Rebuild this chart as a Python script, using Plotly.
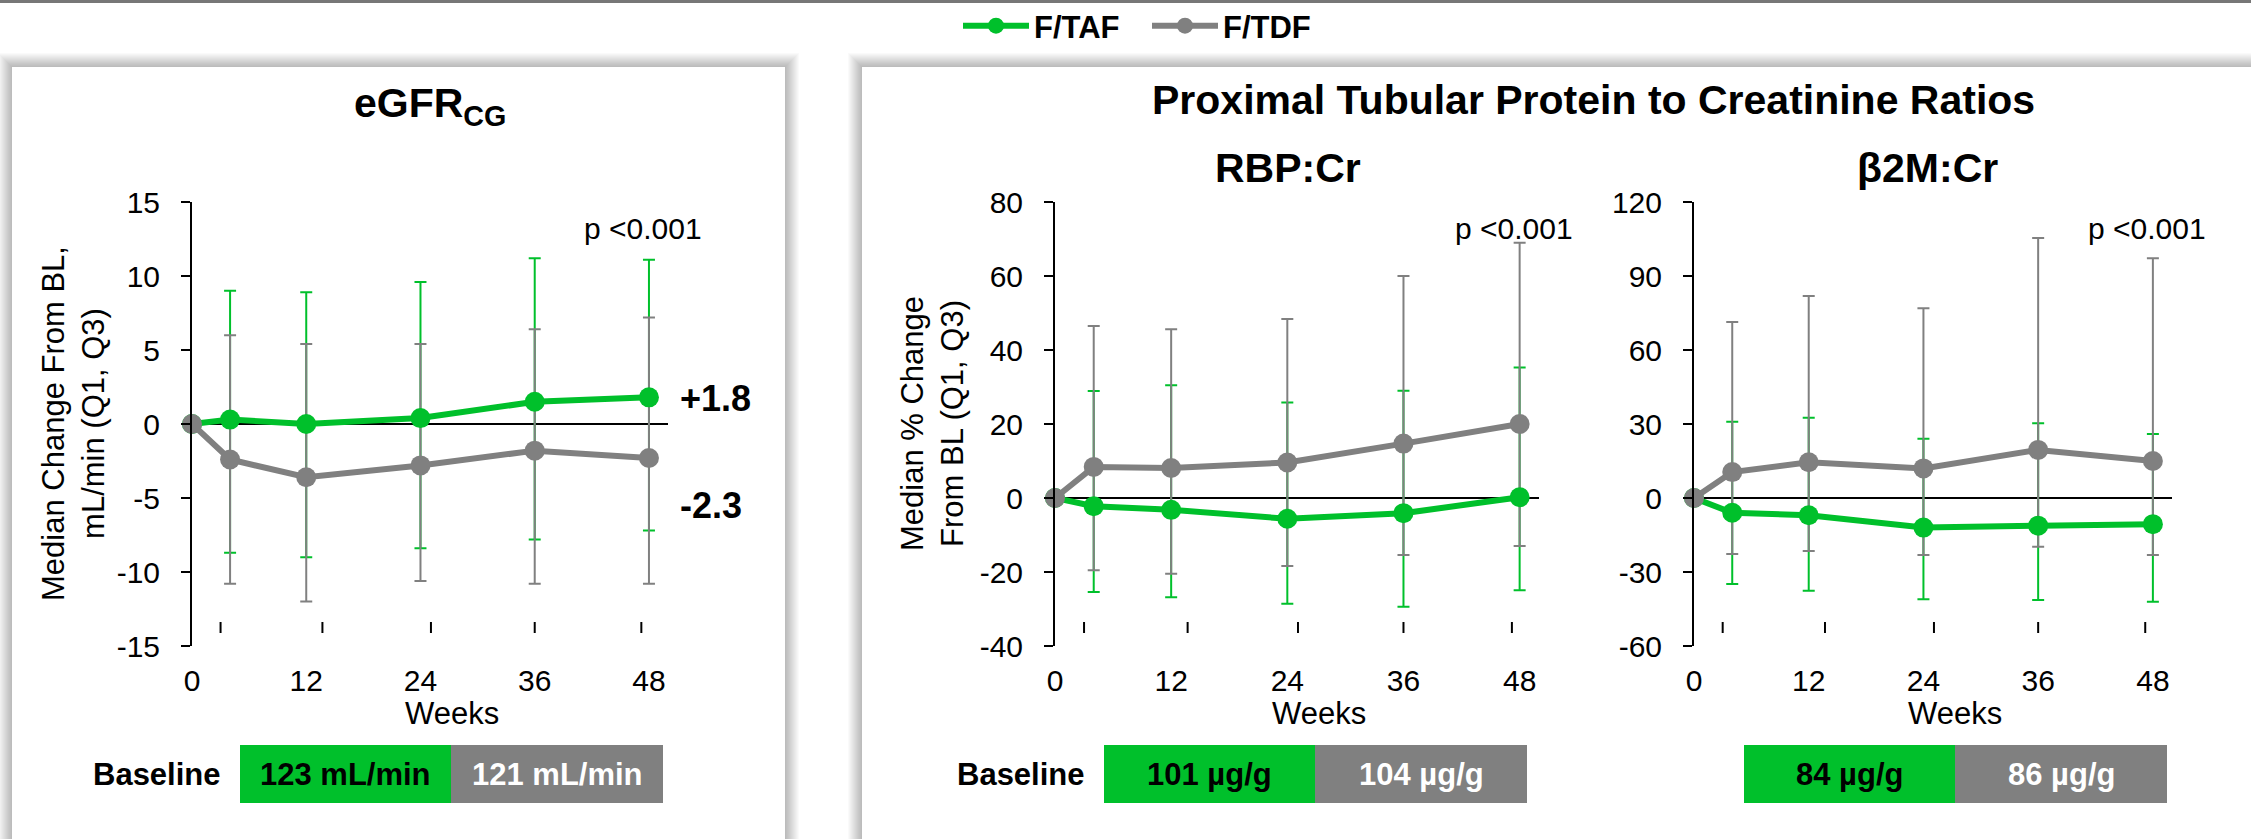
import plotly.graph_objects as go

W, H = 2251, 839
FONT = "Arial, 'Liberation Sans', sans-serif"
GREEN = "#00C02B"
GRAY = "#808080"

# ---------------- data ----------------
weeks = [0, 4, 12, 24, 36, 48]

egfr_taf = [0, 0.3, 0.0, 0.4, 1.5, 1.8]
egfr_taf_q3 = [None, 9.0, 8.9, 9.6, 11.2, 11.1]
egfr_taf_q1 = [None, -8.7, -9.0, -8.4, -7.8, -7.2]
egfr_tdf = [0, -2.4, -3.6, -2.8, -1.8, -2.3]
egfr_tdf_q3 = [None, 6.0, 5.4, 5.4, 6.4, 7.2]
egfr_tdf_q1 = [None, -10.8, -12.0, -10.6, -10.8, -10.8]

rbp_taf = [0, -2.2, -3.2, -5.6, -4.1, 0.2]
rbp_taf_q3 = [None, 28.9, 30.5, 25.8, 29.0, 35.3]
rbp_taf_q1 = [None, -25.4, -26.8, -28.6, -29.4, -24.9]
rbp_tdf = [0, 8.4, 8.1, 9.6, 14.7, 20.0]
rbp_tdf_q3 = [None, 46.5, 45.6, 48.4, 60.0, 69.0]
rbp_tdf_q1 = [None, -19.5, -20.5, -18.4, -15.4, -13.0]

b2m_taf = [0, -6.0, -7.0, -12.0, -11.2, -10.6]
b2m_taf_q3 = [None, 30.9, 32.5, 24.0, 30.3, 25.9]
b2m_taf_q1 = [None, -34.9, -37.6, -41.0, -41.4, -42.1]
b2m_tdf = [0, 10.5, 14.5, 12.0, 19.5, 15.0]
b2m_tdf_q3 = [None, 71.4, 81.9, 76.9, 105.4, 97.2]
b2m_tdf_q1 = [None, -22.7, -21.5, -23.1, -19.8, -23.1]

x_tickvals = [0, 12, 24, 36, 48]
odd_tick_weeks = [3.0, 13.7, 25.1, 36.0, 47.2]

egfr_ticks = [-15, -10, -5, 0, 5, 10, 15]
rbp_ticks = [-40, -20, 0, 20, 40, 60, 80]
b2m_ticks = [-60, -30, 0, 30, 60, 90, 120]

panel_titles = ["eGFR<sub>CG</sub>", "RBP:Cr", "β2M:Cr"]
group_title = "Proximal Tubular Protein to Creatinine Ratios"
y_titles = ["Median Change From BL,<br>mL/min (Q1, Q3)", "Median % Change<br>From BL (Q1, Q3)"]
p_text = "p <0.001"
baseline_taf = ["123 mL/min", "101 µg/g", "84 µg/g"]
baseline_tdf = ["121 mL/min", "104 µg/g", "86 µg/g"]

# ---------------- layout helpers (pixel -> paper) ----------------
def X(px):
    return px / W

def Y(py):
    return 1 - py / H

panels = [
    dict(x=(192, 668), data=(egfr_taf, egfr_taf_q1, egfr_taf_q3, egfr_tdf, egfr_tdf_q1, egfr_tdf_q3),
         ticks=egfr_ticks),
    dict(x=(1055, 1539), data=(rbp_taf, rbp_taf_q1, rbp_taf_q3, rbp_tdf, rbp_tdf_q1, rbp_tdf_q3),
         ticks=rbp_ticks),
    dict(x=(1694, 2172), data=(b2m_taf, b2m_taf_q1, b2m_taf_q3, b2m_tdf, b2m_tdf_q1, b2m_tdf_q3),
         ticks=b2m_ticks),
]
PLOT_TOP, PLOT_BOT = 202, 646


def err(med, q1, q3):
    plus = [None if h is None else h - m for m, h in zip(med, q3)]
    minus = [None if l is None else m - l for m, l in zip(med, q1)]
    return plus, minus


fig = go.Figure()
layout_axes = {}
shapes = []
annotations = []

for i, p in enumerate(panels):
    n = "" if i == 0 else str(i + 1)
    xa, ya = "x" + n, "y" + n
    taf, taf_q1, taf_q3, tdf, tdf_q1, tdf_q3 = p["data"]
    gp, gm = err(taf, taf_q1, taf_q3)
    tp, tm = err(tdf, tdf_q1, tdf_q3)
    # error bars first (underneath lines)
    for med, plus, minus, col in [(taf, gp, gm, GREEN), (tdf, tp, tm, GRAY)]:
        fig.add_trace(go.Scatter(
            x=weeks, y=med, mode="markers", xaxis=xa, yaxis=ya,
            marker=dict(color="rgba(0,0,0,0)", size=2),
            error_y=dict(type="data", symmetric=False, array=plus, arrayminus=minus,
                         color=col, thickness=2, width=6),
            showlegend=False, hoverinfo="skip", cliponaxis=False))
    for med, col, name in [(taf, GREEN, "F/TAF"), (tdf, GRAY, "F/TDF")]:
        fig.add_trace(go.Scatter(
            x=weeks, y=med, mode="lines+markers", xaxis=xa, yaxis=ya, name=name,
            line=dict(color=col, width=6), marker=dict(color=col, size=20),
            showlegend=(i == 0), hoverinfo="skip", cliponaxis=False))

    layout_axes["xaxis" + n] = dict(
        domain=[X(p["x"][0]), X(p["x"][1])], range=[0, 50], anchor=ya,
        tickvals=x_tickvals, ticktext=[str(v) for v in x_tickvals],
        ticks="outside", ticklen=8, tickcolor="rgba(0,0,0,0)",
        showline=False, showgrid=False, zeroline=False, fixedrange=True,
        tickfont=dict(family=FONT, size=30, color="black"))
    layout_axes["yaxis" + n] = dict(
        domain=[Y(PLOT_BOT), Y(PLOT_TOP)], range=[p["ticks"][0], p["ticks"][-1]], anchor=xa,
        tickvals=p["ticks"], ticktext=[str(v) for v in p["ticks"]],
        ticks="outside", ticklen=9, tickwidth=2, tickcolor="black",
        ticklabelstandoff=15,
        showline=True, linecolor="black", linewidth=2,
        showgrid=False, zeroline=True, zerolinecolor="black", zerolinewidth=2,
        fixedrange=True,
        tickfont=dict(family=FONT, size=30, color="black"))

    for wk in odd_tick_weeks:
        shapes.append(dict(type="line", xref=xa, yref="paper", x0=wk, x1=wk,
                           y0=Y(633), y1=Y(622), line=dict(color="black", width=2)))

    # Weeks label & p-value
    cx = (p["x"][0] + p["x"][1]) / 2
    annotations.append(dict(text="Weeks", x=X(cx + 22), y=Y(713), xref="paper", yref="paper",
                            showarrow=False, xanchor="center", yanchor="middle",
                            font=dict(family=FONT, size=31, color="black")))
    annotations.append(dict(text=p_text, x=X(p["x"][1] - 25), y=Y(228), xref="paper", yref="paper",
                            showarrow=False, xanchor="center", yanchor="middle",
                            font=dict(family=FONT, size=30, color="black")))

# ---------- background panels with shadows ----------
def rect(x0, y0, x1, y1, fill, layer="below"):
    return dict(type="rect", xref="paper", yref="paper", x0=X(x0), x1=X(x1),
                y0=Y(y1), y1=Y(y0), fillcolor=fill, line=dict(width=0), layer=layer)

bg_shapes = []
for k in range(14, 0, -1):
    a = 0.018
    bg_shapes.append(rect(12 - k, 67 - k, 785 + k, H + 30, f"rgba(0,0,0,{a})"))
    bg_shapes.append(rect(862 - k, 67 - k, W + 30, H + 30, f"rgba(0,0,0,{a})"))
bg_shapes.append(rect(12, 67, 785, H + 30, "white"))
bg_shapes.append(rect(862, 67, W + 30, H + 30, "white"))
bg_shapes.append(rect(0, 0, W, 3, "#777777", layer="above"))

# baseline boxes
box_x = [(240, 451, 663), (1104, 1315, 1527), (1744, 1955, 2167)]
for (a0, a1, a2), t1, t2 in zip(box_x, baseline_taf, baseline_tdf):
    shapes.append(rect(a0, 745, a1, 803, GREEN))
    shapes.append(rect(a1, 745, a2, 803, GRAY))
    annotations.append(dict(text=t1, x=X((a0 + a1) / 2), y=Y(774), xref="paper", yref="paper",
                            showarrow=False, xanchor="center", yanchor="middle",
                            font=dict(family=FONT, size=31, color="black", weight="bold")))
    annotations.append(dict(text=t2, x=X((a1 + a2) / 2), y=Y(774), xref="paper", yref="paper",
                            showarrow=False, xanchor="center", yanchor="middle",
                            font=dict(family=FONT, size=31, color="white", weight="bold")))
for bx in (157, 1021):
    annotations.append(dict(text="Baseline", x=X(bx), y=Y(774), xref="paper", yref="paper",
                            showarrow=False, xanchor="center", yanchor="middle",
                            font=dict(family=FONT, size=31, color="black", weight="bold")))

# titles
for txt, cx, cy in [(panel_titles[0], 430, 106), (group_title, 1593, 100),
                    (panel_titles[1], 1288, 168), (panel_titles[2], 1927, 168)]:
    annotations.append(dict(text=txt, x=X(cx), y=Y(cy), xref="paper", yref="paper",
                            showarrow=False, xanchor="center", yanchor="middle",
                            font=dict(family=FONT, size=41, color="black", weight="bold")))

# y titles
for txt, cx in [(y_titles[0], 73), (y_titles[1], 932)]:
    annotations.append(dict(text=txt, x=X(cx), y=Y(424), xref="paper", yref="paper",
                            showarrow=False, xanchor="center", yanchor="middle", textangle=-90,
                            font=dict(family=FONT, size=31, color="black")))

# end labels of eGFR
for val, cy in [(egfr_taf[-1], 398), (egfr_tdf[-1], 505)]:
    annotations.append(dict(text=f"{val:+.1f}", x=X(678), y=Y(cy), xref="paper", yref="paper",
                            showarrow=False, xanchor="left", yanchor="middle",
                            font=dict(family=FONT, size=36, color="black", weight="bold")))

fig.update_layout(
    width=W, height=H, margin=dict(l=0, r=0, t=0, b=0, autoexpand=False),
    paper_bgcolor="white", plot_bgcolor="rgba(0,0,0,0)",
    shapes=bg_shapes + shapes, annotations=annotations,
    showlegend=True,
    legend=dict(orientation="h", x=X(958), y=Y(26), xanchor="left", yanchor="middle",
                font=dict(family=FONT, size=31, color="black", weight="bold"),
                itemwidth=66, entrywidth=108, entrywidthmode="pixels",
                bgcolor="rgba(0,0,0,0)", tracegroupgap=0),
    **layout_axes,
)

fig.write_html("out.html", config={"displayModeBar": False})
